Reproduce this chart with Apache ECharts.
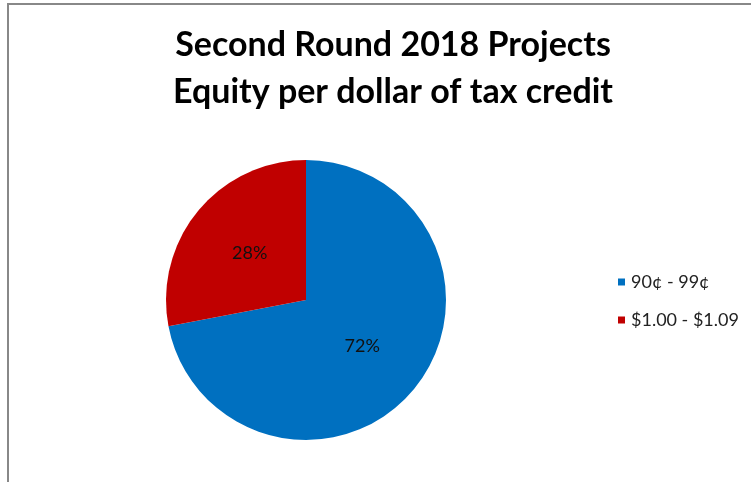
<!DOCTYPE html>
<html>
<head>
<meta charset="utf-8">
<script src="https://cdn.jsdelivr.net/npm/echarts@6/dist/echarts.min.js"></script>
<style>html,body{margin:0;padding:0;background:#fff}#c{width:751px;height:482px}</style>
</head>
<body>
<div id="c"></div>
<script>
const titleLines = ['Second Round 2018 Projects', 'Equity per dollar of tax credit'];
const categories = ['90¢ - 99¢', '$1.00 - $1.09'];
const values = [72, 28];
const colors = ['#0070C0', '#C00000'];

const chart = echarts.init(document.getElementById('c'));
chart.setOption({
  animation: false,
  backgroundColor: '#fff',
  title: {
    text: titleLines.join('\n'),
    left: 388, top: 17, textAlign: 'center',
    textStyle: { fontFamily: 'Lato', fontWeight: 'bold', fontSize: 34, lineHeight: 47, color: '#000' }
  },
  legend: {
    orient: 'vertical', left: 613, top: 268,
    itemWidth: 7, itemHeight: 7, itemGap: 20, icon: 'rect',
    textStyle: { fontFamily: 'Lato', fontSize: 18, color: '#222', padding: [0, 0, 0, 1] },
    data: categories
  },
  graphic: [{
    type: 'rect', silent: true,
    shape: { x: 8, y: 4, width: 800, height: 600 },
    style: { fill: 'none', stroke: '#888', lineWidth: 2 }
  }],
  series: [{
    type: 'pie',
    center: [306, 300], radius: 140,
    startAngle: 90, clockwise: true,
    label: { show: true, position: 'inside', formatter: '{d}%', fontFamily: 'Lato', fontSize: 18, color: '#111' },
    labelLine: { show: false },
    itemStyle: { borderWidth: 0 },
    emphasis: { disabled: true },
    data: categories.map((c, i) => ({ name: c, value: values[i], itemStyle: { color: colors[i] } }))
  }]
});
</script>
</body>
</html>
